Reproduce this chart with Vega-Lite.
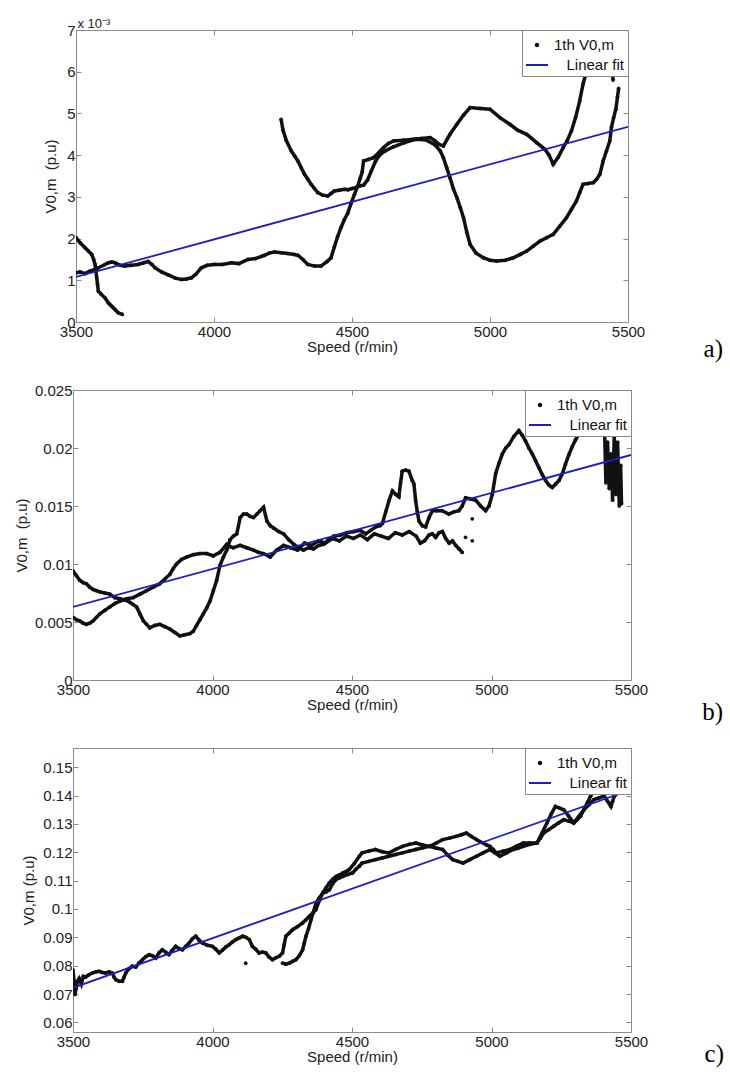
{
"$schema": "https://vega.github.io/schema/vega-lite/v6.json",
"background": "white",
"padding": {"left": 13, "top": 16, "right": 0, "bottom": 0},
"datasets": {
"a": [
{"s":3500,"v":0.00202,"g":1},{"s":3515,"v":0.0019,"g":1},{"s":3533,"v":0.00178,"g":1},{"s":3545,"v":0.0017,"g":1},{"s":3557,"v":0.00162,"g":1},{"s":3564,"v":0.0015,"g":1},{"s":3569,"v":0.00138,"g":1},{"s":3572,"v":0.00122,"g":1},{"s":3575,"v":0.00106,"g":1},{"s":3578,"v":0.0009,"g":1},{"s":3581,"v":0.00074,"g":1},{"s":3592,"v":0.00066,"g":1},{"s":3605,"v":0.00058,"g":1},{"s":3617,"v":0.00046,"g":1},{"s":3626,"v":0.0004,"g":1},{"s":3635,"v":0.00034,"g":1},{"s":3644,"v":0.00028,"g":1},{"s":3653,"v":0.00022,"g":1},{"s":3668,"v":0.00018,"g":1},
{"s":3500,"v":0.00118,"g":2},{"s":3515,"v":0.0012,"g":2},{"s":3533,"v":0.00116,"g":2},{"s":3550,"v":0.00122,"g":2},{"s":3565,"v":0.00125,"g":2},{"s":3581,"v":0.0013,"g":2},{"s":3600,"v":0.00136,"g":2},{"s":3617,"v":0.00142,"g":2},{"s":3630,"v":0.00144,"g":2},{"s":3641,"v":0.00142,"g":2},{"s":3660,"v":0.00136,"g":2},{"s":3677,"v":0.00134,"g":2},{"s":3700,"v":0.00136,"g":2},{"s":3725,"v":0.00138,"g":2},{"s":3745,"v":0.00142,"g":2},{"s":3761,"v":0.00145,"g":2},{"s":3775,"v":0.00138,"g":2},{"s":3786,"v":0.0013,"g":2},{"s":3810,"v":0.0012,"g":2},{"s":3834,"v":0.00113,"g":2},{"s":3860,"v":0.00105,"g":2},{"s":3882,"v":0.00102,"g":2},{"s":3900,"v":0.00103,"g":2},{"s":3918,"v":0.00106,"g":2},{"s":3935,"v":0.00115,"g":2},{"s":3954,"v":0.0013,"g":2},{"s":3975,"v":0.00136,"g":2},{"s":4002,"v":0.00138,"g":2},{"s":4030,"v":0.00138,"g":2},{"s":4063,"v":0.00142,"g":2},{"s":4090,"v":0.0014,"g":2},{"s":4123,"v":0.0015,"g":2},{"s":4150,"v":0.00152,"g":2},{"s":4183,"v":0.0016,"g":2},{"s":4200,"v":0.00165,"g":2},{"s":4219,"v":0.00168,"g":2},{"s":4245,"v":0.00166,"g":2},{"s":4268,"v":0.00164,"g":2},{"s":4290,"v":0.00162,"g":2},{"s":4304,"v":0.0016,"g":2},{"s":4322,"v":0.0015,"g":2},{"s":4340,"v":0.00138,"g":2},{"s":4365,"v":0.00134,"g":2},{"s":4388,"v":0.00134,"g":2},{"s":4410,"v":0.00145,"g":2},{"s":4424,"v":0.00154,"g":2},{"s":4436,"v":0.0018,"g":2},{"s":4448,"v":0.00205,"g":2},{"s":4460,"v":0.00226,"g":2},{"s":4472,"v":0.00245,"g":2},{"s":4484,"v":0.0026,"g":2},{"s":4497,"v":0.00285,"g":2},{"s":4509,"v":0.00306,"g":2},{"s":4520,"v":0.00325,"g":2},{"s":4530,"v":0.00345,"g":2},{"s":4537,"v":0.0036,"g":2},{"s":4542,"v":0.00386,"g":2},{"s":4560,"v":0.0039,"g":2},{"s":4578,"v":0.00394,"g":2},{"s":4596,"v":0.00405,"g":2},{"s":4614,"v":0.00418,"g":2},{"s":4632,"v":0.00428,"g":2},{"s":4651,"v":0.00434,"g":2},{"s":4687,"v":0.00436,"g":2},{"s":4723,"v":0.00438,"g":2},{"s":4753,"v":0.0044,"g":2},{"s":4783,"v":0.00442,"g":2},{"s":4800,"v":0.00435,"g":2},{"s":4815,"v":0.00426,"g":2},{"s":4831,"v":0.00422,"g":2},{"s":4855,"v":0.0045,"g":2},{"s":4880,"v":0.00474,"g":2},{"s":4904,"v":0.00496,"g":2},{"s":4928,"v":0.00514,"g":2},{"s":4964,"v":0.00512,"g":2},{"s":5000,"v":0.0051,"g":2},{"s":5036,"v":0.0049,"g":2},{"s":5072,"v":0.00474,"g":2},{"s":5100,"v":0.0046,"g":2},{"s":5133,"v":0.0045,"g":2},{"s":5151,"v":0.0044,"g":2},{"s":5169,"v":0.0043,"g":2},{"s":5199,"v":0.00414,"g":2},{"s":5214,"v":0.004,"g":2},{"s":5229,"v":0.00378,"g":2},{"s":5247,"v":0.00395,"g":2},{"s":5265,"v":0.00418,"g":2},{"s":5280,"v":0.00435,"g":2},{"s":5295,"v":0.00458,"g":2},{"s":5310,"v":0.0049,"g":2},{"s":5325,"v":0.0053,"g":2},{"s":5337,"v":0.0057,"g":2},{"s":5350,"v":0.00602,"g":2},{"s":5365,"v":0.0063,"g":2},{"s":5390,"v":0.0065,"g":2},{"s":5420,"v":0.0065,"g":2},{"s":5440,"v":0.0062,"g":2},{"s":5446,"v":0.0058,"g":2},
{"s":4243,"v":0.00486,"g":3},{"s":4250,"v":0.0046,"g":3},{"s":4262,"v":0.00435,"g":3},{"s":4280,"v":0.0041,"g":3},{"s":4292,"v":0.00398,"g":3},{"s":4304,"v":0.00386,"g":3},{"s":4316,"v":0.0037,"g":3},{"s":4328,"v":0.00354,"g":3},{"s":4340,"v":0.00342,"g":3},{"s":4352,"v":0.0033,"g":3},{"s":4364,"v":0.0032,"g":3},{"s":4376,"v":0.0031,"g":3},{"s":4394,"v":0.00304,"g":3},{"s":4412,"v":0.00302,"g":3},{"s":4424,"v":0.00308,"g":3},{"s":4436,"v":0.00314,"g":3},{"s":4454,"v":0.00316,"g":3},{"s":4472,"v":0.00318,"g":3},{"s":4486,"v":0.00317,"g":3},{"s":4500,"v":0.0032,"g":3},{"s":4514,"v":0.00322,"g":3},{"s":4527,"v":0.00326,"g":3},{"s":4542,"v":0.00328,"g":3},{"s":4556,"v":0.0034,"g":3},{"s":4570,"v":0.00362,"g":3},{"s":4585,"v":0.00385,"g":3},{"s":4600,"v":0.004,"g":3},{"s":4620,"v":0.0041,"g":3},{"s":4650,"v":0.0042,"g":3},{"s":4690,"v":0.0043,"g":3},{"s":4730,"v":0.00438,"g":3},{"s":4770,"v":0.00436,"g":3},{"s":4800,"v":0.00425,"g":3},{"s":4820,"v":0.0041,"g":3},{"s":4831,"v":0.00394,"g":3},{"s":4843,"v":0.0037,"g":3},{"s":4855,"v":0.00346,"g":3},{"s":4867,"v":0.0032,"g":3},{"s":4880,"v":0.00298,"g":3},{"s":4892,"v":0.00275,"g":3},{"s":4904,"v":0.0025,"g":3},{"s":4916,"v":0.00215,"g":3},{"s":4928,"v":0.00186,"g":3},{"s":4950,"v":0.00165,"g":3},{"s":4976,"v":0.00154,"g":3},{"s":5000,"v":0.00148,"g":3},{"s":5024,"v":0.00146,"g":3},{"s":5055,"v":0.00148,"g":3},{"s":5084,"v":0.00154,"g":3},{"s":5110,"v":0.00162,"g":3},{"s":5133,"v":0.0017,"g":3},{"s":5157,"v":0.00182,"g":3},{"s":5181,"v":0.00194,"g":3},{"s":5205,"v":0.00202,"g":3},{"s":5229,"v":0.0021,"g":3},{"s":5253,"v":0.0023,"g":3},{"s":5277,"v":0.0025,"g":3},{"s":5295,"v":0.0027,"g":3},{"s":5313,"v":0.0029,"g":3},{"s":5325,"v":0.0031,"g":3},{"s":5337,"v":0.0033,"g":3},{"s":5355,"v":0.00332,"g":3},{"s":5374,"v":0.00334,"g":3},{"s":5386,"v":0.00342,"g":3},{"s":5398,"v":0.00354,"g":3},{"s":5410,"v":0.00386,"g":3},{"s":5422,"v":0.0041,"g":3},{"s":5434,"v":0.00434,"g":3},{"s":5440,"v":0.00466,"g":3},{"s":5448,"v":0.0049,"g":3},{"s":5456,"v":0.0051,"g":3},{"s":5462,"v":0.0054,"g":3},{"s":5466,"v":0.0056,"g":3}
],
"b": [
{"s":3500,"v":0.0094,"g":1},{"s":3512,"v":0.009,"g":1},{"s":3524,"v":0.0086,"g":1},{"s":3536,"v":0.0084,"g":1},{"s":3548,"v":0.0083,"g":1},{"s":3560,"v":0.008,"g":1},{"s":3572,"v":0.0078,"g":1},{"s":3584,"v":0.0077,"g":1},{"s":3596,"v":0.0076,"g":1},{"s":3614,"v":0.0075,"g":1},{"s":3632,"v":0.0074,"g":1},{"s":3650,"v":0.0071,"g":1},{"s":3668,"v":0.007,"g":1},{"s":3686,"v":0.0069,"g":1},{"s":3704,"v":0.0067,"g":1},{"s":3716,"v":0.0065,"g":1},{"s":3728,"v":0.0063,"g":1},{"s":3740,"v":0.0057,"g":1},{"s":3752,"v":0.0051,"g":1},{"s":3764,"v":0.0048,"g":1},{"s":3775,"v":0.0045,"g":1},{"s":3793,"v":0.0047,"g":1},{"s":3811,"v":0.0048,"g":1},{"s":3829,"v":0.0046,"g":1},{"s":3847,"v":0.0044,"g":1},{"s":3865,"v":0.0041,"g":1},{"s":3883,"v":0.0038,"g":1},{"s":3901,"v":0.0039,"g":1},{"s":3919,"v":0.004,"g":1},{"s":3931,"v":0.0042,"g":1},{"s":3943,"v":0.0047,"g":1},{"s":3955,"v":0.0052,"g":1},{"s":3967,"v":0.0057,"g":1},{"s":3979,"v":0.0062,"g":1},{"s":3991,"v":0.0068,"g":1},{"s":4003,"v":0.0077,"g":1},{"s":4015,"v":0.0086,"g":1},{"s":4027,"v":0.0099,"g":1},{"s":4039,"v":0.0106,"g":1},{"s":4051,"v":0.0112,"g":1},{"s":4063,"v":0.0121,"g":1},{"s":4075,"v":0.0124,"g":1},{"s":4087,"v":0.0126,"g":1},{"s":4099,"v":0.014,"g":1},{"s":4111,"v":0.0143,"g":1},{"s":4123,"v":0.0143,"g":1},{"s":4135,"v":0.0141,"g":1},{"s":4147,"v":0.014,"g":1},{"s":4159,"v":0.0143,"g":1},{"s":4171,"v":0.0146,"g":1},{"s":4183,"v":0.0149,"g":1},{"s":4195,"v":0.0137,"g":1},{"s":4207,"v":0.0133,"g":1},{"s":4219,"v":0.0131,"g":1},{"s":4237,"v":0.0128,"g":1},{"s":4255,"v":0.0126,"g":1},{"s":4273,"v":0.0121,"g":1},{"s":4291,"v":0.0117,"g":1},{"s":4308,"v":0.0114,"g":1},{"s":4326,"v":0.0112,"g":1},{"s":4344,"v":0.0114,"g":1},{"s":4362,"v":0.0113,"g":1},{"s":4380,"v":0.0116,"g":1},{"s":4398,"v":0.0117,"g":1},{"s":4416,"v":0.0121,"g":1},{"s":4434,"v":0.0124,"g":1},{"s":4458,"v":0.0125,"g":1},{"s":4482,"v":0.0127,"g":1},{"s":4506,"v":0.0128,"g":1},{"s":4530,"v":0.0129,"g":1},{"s":4549,"v":0.0126,"g":1},{"s":4567,"v":0.0129,"g":1},{"s":4585,"v":0.0132,"g":1},{"s":4600,"v":0.0133,"g":1},{"s":4609,"v":0.0135,"g":1},{"s":4621,"v":0.0145,"g":1},{"s":4633,"v":0.0155,"g":1},{"s":4645,"v":0.0163,"g":1},{"s":4657,"v":0.016,"g":1},{"s":4668,"v":0.0158,"g":1},{"s":4674,"v":0.017,"g":1},{"s":4680,"v":0.018,"g":1},{"s":4692,"v":0.0181,"g":1},{"s":4704,"v":0.018,"g":1},{"s":4716,"v":0.0172,"g":1},{"s":4722,"v":0.0169,"g":1},{"s":4728,"v":0.0155,"g":1},{"s":4734,"v":0.0145,"g":1},{"s":4740,"v":0.0137,"g":1},{"s":4752,"v":0.0133,"g":1},{"s":4764,"v":0.0132,"g":1},{"s":4776,"v":0.014,"g":1},{"s":4788,"v":0.0146,"g":1},{"s":4805,"v":0.0146,"g":1},{"s":4823,"v":0.0146,"g":1},{"s":4847,"v":0.0143,"g":1},{"s":4865,"v":0.0145,"g":1},{"s":4883,"v":0.0146,"g":1},{"s":4895,"v":0.015,"g":1},{"s":4907,"v":0.0157,"g":1},{"s":4925,"v":0.0156,"g":1},{"s":4943,"v":0.0155,"g":1},{"s":4961,"v":0.015,"g":1},{"s":4979,"v":0.0146,"g":1},{"s":4991,"v":0.015,"g":1},{"s":5003,"v":0.016,"g":1},{"s":5015,"v":0.0178,"g":1},{"s":5027,"v":0.0187,"g":1},{"s":5039,"v":0.0195,"g":1},{"s":5051,"v":0.02,"g":1},{"s":5063,"v":0.0203,"g":1},{"s":5080,"v":0.021,"g":1},{"s":5098,"v":0.0215,"g":1},{"s":5110,"v":0.0211,"g":1},{"s":5122,"v":0.0206,"g":1},{"s":5134,"v":0.02,"g":1},{"s":5146,"v":0.0195,"g":1},{"s":5158,"v":0.0189,"g":1},{"s":5170,"v":0.0183,"g":1},{"s":5182,"v":0.0177,"g":1},{"s":5194,"v":0.0172,"g":1},{"s":5206,"v":0.0168,"g":1},{"s":5218,"v":0.0166,"g":1},{"s":5230,"v":0.0169,"g":1},{"s":5242,"v":0.0172,"g":1},{"s":5254,"v":0.0178,"g":1},{"s":5265,"v":0.0186,"g":1},{"s":5277,"v":0.0194,"g":1},{"s":5289,"v":0.0201,"g":1},{"s":5301,"v":0.0207,"g":1},{"s":5313,"v":0.0212,"g":1},{"s":5331,"v":0.0215,"g":1},{"s":5349,"v":0.0215,"g":1},{"s":5367,"v":0.0216,"g":1},{"s":5385,"v":0.0215,"g":1},{"s":5396,"v":0.0249,"g":1},
{"s":3500,"v":0.0054,"g":2},{"s":3512,"v":0.0052,"g":2},{"s":3524,"v":0.0051,"g":2},{"s":3536,"v":0.0049,"g":2},{"s":3548,"v":0.0048,"g":2},{"s":3560,"v":0.0049,"g":2},{"s":3572,"v":0.0051,"g":2},{"s":3584,"v":0.0054,"g":2},{"s":3596,"v":0.0057,"g":2},{"s":3614,"v":0.006,"g":2},{"s":3632,"v":0.0063,"g":2},{"s":3650,"v":0.0066,"g":2},{"s":3668,"v":0.0068,"g":2},{"s":3692,"v":0.007,"g":2},{"s":3716,"v":0.0071,"g":2},{"s":3740,"v":0.0074,"g":2},{"s":3763,"v":0.0077,"g":2},{"s":3787,"v":0.008,"g":2},{"s":3811,"v":0.0083,"g":2},{"s":3829,"v":0.0087,"g":2},{"s":3847,"v":0.0091,"g":2},{"s":3859,"v":0.0096,"g":2},{"s":3871,"v":0.01,"g":2},{"s":3889,"v":0.0104,"g":2},{"s":3907,"v":0.0106,"g":2},{"s":3931,"v":0.0108,"g":2},{"s":3955,"v":0.0109,"g":2},{"s":3979,"v":0.0109,"g":2},{"s":4003,"v":0.0107,"g":2},{"s":4027,"v":0.011,"g":2},{"s":4051,"v":0.0117,"g":2},{"s":4063,"v":0.0115,"g":2},{"s":4075,"v":0.0114,"g":2},{"s":4099,"v":0.0116,"g":2},{"s":4123,"v":0.0114,"g":2},{"s":4147,"v":0.0112,"g":2},{"s":4165,"v":0.011,"g":2},{"s":4183,"v":0.0109,"g":2},{"s":4207,"v":0.0106,"g":2},{"s":4230,"v":0.0112,"g":2},{"s":4255,"v":0.0116,"g":2},{"s":4280,"v":0.0114,"g":2},{"s":4305,"v":0.0112,"g":2},{"s":4330,"v":0.0118,"g":2},{"s":4355,"v":0.0116,"g":2},{"s":4380,"v":0.012,"g":2},{"s":4405,"v":0.0118,"g":2},{"s":4430,"v":0.0122,"g":2},{"s":4455,"v":0.012,"g":2},{"s":4480,"v":0.0124,"g":2},{"s":4505,"v":0.0122,"g":2},{"s":4530,"v":0.0125,"g":2},{"s":4555,"v":0.0121,"g":2},{"s":4580,"v":0.0126,"g":2},{"s":4605,"v":0.0124,"g":2},{"s":4630,"v":0.0122,"g":2},{"s":4655,"v":0.0127,"g":2},{"s":4680,"v":0.0125,"g":2},{"s":4705,"v":0.0128,"g":2},{"s":4730,"v":0.0124,"g":2},{"s":4745,"v":0.0118,"g":2},{"s":4760,"v":0.012,"g":2},{"s":4776,"v":0.0125,"g":2},{"s":4788,"v":0.0126,"g":2},{"s":4800,"v":0.0123,"g":2},{"s":4812,"v":0.0127,"g":2},{"s":4824,"v":0.0128,"g":2},{"s":4836,"v":0.0122,"g":2},{"s":4848,"v":0.0118,"g":2},{"s":4860,"v":0.012,"g":2},{"s":4872,"v":0.0116,"g":2},{"s":4884,"v":0.0113,"g":2},{"s":4895,"v":0.011,"g":2},
{"s":5405,"v":0.0218,"g":3},{"s":5410,"v":0.017,"g":3},{"s":5416,"v":0.0205,"g":3},{"s":5422,"v":0.0165,"g":3},{"s":5428,"v":0.0195,"g":3},{"s":5434,"v":0.0155,"g":3},{"s":5440,"v":0.021,"g":3},{"s":5446,"v":0.016,"g":3},{"s":5452,"v":0.0205,"g":3},{"s":5458,"v":0.015,"g":3},{"s":5463,"v":0.0185,"g":3},{"s":5466,"v":0.0152,"g":3},
{"s":4907,"v":0.0123,"g":4},{"s":4931,"v":0.012,"g":5},{"s":4931,"v":0.0139,"g":6}
],
"c": [
{"s":3500,"v":0.0785,"g":1},{"s":3504,"v":0.0745,"g":1},{"s":3507,"v":0.0698,"g":1},{"s":3511,"v":0.072,"g":1},{"s":3516,"v":0.0745,"g":1},{"s":3522,"v":0.0755,"g":1},{"s":3530,"v":0.0735,"g":1},{"s":3537,"v":0.0762,"g":1},{"s":3545,"v":0.076,"g":1},{"s":3557,"v":0.0768,"g":1},{"s":3569,"v":0.0774,"g":1},{"s":3581,"v":0.0778,"g":1},{"s":3593,"v":0.078,"g":1},{"s":3605,"v":0.0776,"g":1},{"s":3617,"v":0.0774,"g":1},{"s":3629,"v":0.0778,"g":1},{"s":3641,"v":0.0774,"g":1},{"s":3647,"v":0.076,"g":1},{"s":3653,"v":0.0751,"g":1},{"s":3665,"v":0.0745,"g":1},{"s":3677,"v":0.0745,"g":1},{"s":3683,"v":0.076,"g":1},{"s":3689,"v":0.0774,"g":1},{"s":3701,"v":0.079,"g":1},{"s":3713,"v":0.0798,"g":1},{"s":3725,"v":0.0795,"g":1},{"s":3737,"v":0.081,"g":1},{"s":3749,"v":0.0821,"g":1},{"s":3761,"v":0.0832,"g":1},{"s":3773,"v":0.0839,"g":1},{"s":3785,"v":0.0835,"g":1},{"s":3797,"v":0.0827,"g":1},{"s":3808,"v":0.0845,"g":1},{"s":3820,"v":0.0856,"g":1},{"s":3832,"v":0.0848,"g":1},{"s":3844,"v":0.0839,"g":1},{"s":3856,"v":0.0855,"g":1},{"s":3868,"v":0.0868,"g":1},{"s":3880,"v":0.086,"g":1},{"s":3892,"v":0.0856,"g":1},{"s":3904,"v":0.0868,"g":1},{"s":3916,"v":0.088,"g":1},{"s":3928,"v":0.0895,"g":1},{"s":3940,"v":0.0904,"g":1},{"s":3952,"v":0.089,"g":1},{"s":3964,"v":0.088,"g":1},{"s":3982,"v":0.0872,"g":1},{"s":4000,"v":0.0868,"g":1},{"s":4012,"v":0.0858,"g":1},{"s":4024,"v":0.0845,"g":1},{"s":4036,"v":0.0855,"g":1},{"s":4048,"v":0.0866,"g":1},{"s":4060,"v":0.0874,"g":1},{"s":4072,"v":0.0884,"g":1},{"s":4084,"v":0.0892,"g":1},{"s":4096,"v":0.0898,"g":1},{"s":4108,"v":0.0904,"g":1},{"s":4120,"v":0.09,"g":1},{"s":4132,"v":0.0892,"g":1},{"s":4143,"v":0.0868,"g":1},{"s":4155,"v":0.0858,"g":1},{"s":4167,"v":0.0845,"g":1},{"s":4179,"v":0.0848,"g":1},{"s":4191,"v":0.0845,"g":1},{"s":4203,"v":0.083,"g":1},{"s":4215,"v":0.0821,"g":1},{"s":4227,"v":0.0828,"g":1},{"s":4239,"v":0.0833,"g":1},{"s":4251,"v":0.0845,"g":1},{"s":4257,"v":0.0875,"g":1},{"s":4263,"v":0.0904,"g":1},{"s":4275,"v":0.0915,"g":1},{"s":4287,"v":0.0927,"g":1},{"s":4305,"v":0.0938,"g":1},{"s":4323,"v":0.0951,"g":1},{"s":4335,"v":0.0962,"g":1},{"s":4347,"v":0.0974,"g":1},{"s":4359,"v":0.0985,"g":1},{"s":4371,"v":0.0998,"g":1},{"s":4383,"v":0.103,"g":1},{"s":4395,"v":0.1056,"g":1},{"s":4407,"v":0.1075,"g":1},{"s":4419,"v":0.1092,"g":1},{"s":4431,"v":0.1105,"g":1},{"s":4443,"v":0.1115,"g":1},{"s":4455,"v":0.112,"g":1},{"s":4467,"v":0.1127,"g":1},{"s":4478,"v":0.1132,"g":1},{"s":4490,"v":0.1139,"g":1},{"s":4508,"v":0.116,"g":1},{"s":4526,"v":0.1186,"g":1},{"s":4536,"v":0.1198,"g":1},{"s":4560,"v":0.1204,"g":1},{"s":4584,"v":0.121,"g":1},{"s":4608,"v":0.1202,"g":1},{"s":4632,"v":0.1198,"g":1},{"s":4656,"v":0.121,"g":1},{"s":4681,"v":0.1221,"g":1},{"s":4705,"v":0.1228,"g":1},{"s":4729,"v":0.1233,"g":1},{"s":4753,"v":0.1226,"g":1},{"s":4777,"v":0.1221,"g":1},{"s":4801,"v":0.1232,"g":1},{"s":4825,"v":0.1245,"g":1},{"s":4849,"v":0.125,"g":1},{"s":4873,"v":0.1256,"g":1},{"s":4892,"v":0.1262,"g":1},{"s":4910,"v":0.1268,"g":1},{"s":4928,"v":0.1256,"g":1},{"s":4946,"v":0.1245,"g":1},{"s":4958,"v":0.1238,"g":1},{"s":4970,"v":0.1233,"g":1},{"s":4982,"v":0.1226,"g":1},{"s":4994,"v":0.1221,"g":1},{"s":5006,"v":0.121,"g":1},{"s":5018,"v":0.1198,"g":1},{"s":5042,"v":0.1204,"g":1},{"s":5066,"v":0.121,"g":1},{"s":5090,"v":0.1222,"g":1},{"s":5114,"v":0.1233,"g":1},{"s":5138,"v":0.1233,"g":1},{"s":5163,"v":0.1233,"g":1},{"s":5181,"v":0.1268,"g":1},{"s":5199,"v":0.1304,"g":1},{"s":5214,"v":0.1335,"g":1},{"s":5229,"v":0.1362,"g":1},{"s":5244,"v":0.1356,"g":1},{"s":5259,"v":0.135,"g":1},{"s":5277,"v":0.1327,"g":1},{"s":5295,"v":0.1304,"g":1},{"s":5307,"v":0.1315,"g":1},{"s":5319,"v":0.1327,"g":1},{"s":5331,"v":0.135,"g":1},{"s":5343,"v":0.1374,"g":1},{"s":5355,"v":0.1398,"g":1},{"s":5367,"v":0.1421,"g":1},{"s":5380,"v":0.1428,"g":1},{"s":5392,"v":0.1433,"g":1},{"s":5404,"v":0.1427,"g":1},{"s":5416,"v":0.1421,"g":1},{"s":5428,"v":0.1415,"g":1},{"s":5440,"v":0.1409,"g":1},{"s":5452,"v":0.1421,"g":1},
{"s":4251,"v":0.0809,"g":2},{"s":4263,"v":0.0805,"g":2},{"s":4275,"v":0.0809,"g":2},{"s":4287,"v":0.0815,"g":2},{"s":4299,"v":0.0821,"g":2},{"s":4311,"v":0.0835,"g":2},{"s":4323,"v":0.0856,"g":2},{"s":4329,"v":0.088,"g":2},{"s":4335,"v":0.0904,"g":2},{"s":4344,"v":0.093,"g":2},{"s":4353,"v":0.0962,"g":2},{"s":4362,"v":0.099,"g":2},{"s":4371,"v":0.1021,"g":2},{"s":4383,"v":0.104,"g":2},{"s":4395,"v":0.1056,"g":2},{"s":4407,"v":0.106,"g":2},{"s":4419,"v":0.1068,"g":2},{"s":4431,"v":0.109,"g":2},{"s":4443,"v":0.1104,"g":2},{"s":4455,"v":0.111,"g":2},{"s":4467,"v":0.1115,"g":2},{"s":4485,"v":0.1122,"g":2},{"s":4502,"v":0.1127,"g":2},{"s":4514,"v":0.114,"g":2},{"s":4526,"v":0.1151,"g":2},{"s":4536,"v":0.1162,"g":2},{"s":4560,"v":0.1168,"g":2},{"s":4584,"v":0.1174,"g":2},{"s":4608,"v":0.118,"g":2},{"s":4632,"v":0.1186,"g":2},{"s":4656,"v":0.1192,"g":2},{"s":4681,"v":0.1198,"g":2},{"s":4705,"v":0.1204,"g":2},{"s":4729,"v":0.121,"g":2},{"s":4753,"v":0.1216,"g":2},{"s":4777,"v":0.1221,"g":2},{"s":4801,"v":0.1215,"g":2},{"s":4825,"v":0.121,"g":2},{"s":4843,"v":0.119,"g":2},{"s":4861,"v":0.1174,"g":2},{"s":4880,"v":0.1168,"g":2},{"s":4898,"v":0.1162,"g":2},{"s":4922,"v":0.1174,"g":2},{"s":4946,"v":0.1186,"g":2},{"s":4970,"v":0.1198,"g":2},{"s":4994,"v":0.121,"g":2},{"s":5012,"v":0.1198,"g":2},{"s":5030,"v":0.1186,"g":2},{"s":5054,"v":0.1198,"g":2},{"s":5078,"v":0.121,"g":2},{"s":5096,"v":0.1215,"g":2},{"s":5114,"v":0.1221,"g":2},{"s":5138,"v":0.1228,"g":2},{"s":5163,"v":0.1233,"g":2},{"s":5175,"v":0.125,"g":2},{"s":5187,"v":0.1268,"g":2},{"s":5205,"v":0.128,"g":2},{"s":5223,"v":0.1292,"g":2},{"s":5241,"v":0.1304,"g":2},{"s":5259,"v":0.1315,"g":2},{"s":5277,"v":0.131,"g":2},{"s":5295,"v":0.1304,"g":2},{"s":5313,"v":0.1327,"g":2},{"s":5331,"v":0.135,"g":2},{"s":5349,"v":0.1368,"g":2},{"s":5367,"v":0.1386,"g":2},{"s":5385,"v":0.1392,"g":2},{"s":5404,"v":0.1398,"g":2},{"s":5416,"v":0.138,"g":2},{"s":5428,"v":0.1362,"g":2},{"s":5434,"v":0.138,"g":2},{"s":5440,"v":0.1398,"g":2},{"s":5452,"v":0.1409,"g":2},
{"s":4119,"v":0.0809,"g":3}
],
"fa": [{"s":3500,"v":0.00108},{"s":5500,"v":0.00468}],
"fb": [{"s":3500,"v":0.0063},{"s":5500,"v":0.0194}],
"fc": [{"s":3500,"v":0.0722},{"s":5500,"v":0.1421}]
},
"vconcat": [
{
"width": 552, "height": 292,
"title": {"text": "a)", "orient": "bottom", "anchor": "end", "frame": "group", "dx": 95, "dy": -17, "offset": 0, "font": "Liberation Serif", "fontSize": 25, "fontWeight": "normal", "color": "#000"},
"layer": [
{"data": {"name": "a"}, "mark": {"type": "line", "strokeWidth": 3.5, "clip": true},
 "encoding": {
  "x": {"field": "s", "type": "quantitative", "scale": {"domain": [3500, 5500], "nice": false, "zero": false}, "axis": null},
  "y": {"field": "v", "type": "quantitative", "scale": {"domain": [0, 0.007], "nice": false, "zero": false}, "axis": null},
  "detail": {"field": "g"},
  "color": {"datum": "1th V0,m", "scale": {"domain": ["1th V0,m", "\u200b\u00a0\u00a0\u00a0Linear fit"], "range": ["#111111", "#1c1cc8"]},
   "legend": {"orient": "top-right", "offset": 0, "title": null, "strokeColor": "#888888", "fillColor": "white", "padding": 3, "labelFont": "Liberation Sans", "labelFontSize": 15, "labelColor": "#111111", "symbolSize": 225, "rowPadding": 0, "labelOffset": 5,
    "encode": {"symbols": {"update": {"shape": {"signal": "datum.value === '1th V0,m' ? 'circle' : 'stroke'"}, "size": {"signal": "datum.value === '1th V0,m' ? 6 : 484"}, "fill": {"signal": "datum.value === '1th V0,m' ? '#111111' : 'transparent'"}, "stroke": {"signal": "datum.value === '1th V0,m' ? 'transparent' : '#1c1cc8'"}, "strokeWidth": {"value": 2}, "opacity": {"value": 1}}}}}}
 }},
{"data": {"name": "a"}, "mark": {"type": "point", "filled": true, "size": 14, "color": "#111111", "opacity": 1, "clip": true},
 "encoding": {
  "x": {"field": "s", "type": "quantitative", "axis": {"orient": "bottom", "values": [3500, 4000, 4500, 5000, 5500], "format": "d", "title": "Speed (r/min)", "labelFlush": false, "labelPadding": 7, "tickSize": -5, "titlePadding": 0}},
  "y": {"field": "v", "type": "quantitative", "axis": {"orient": "left", "values": [0, 0.001, 0.002, 0.003, 0.004, 0.005, 0.006, 0.007], "labelExpr": "format(datum.value * 1000, 'd')", "title": "V0,m\u00a0 (p.u)", "labelPadding": 6, "tickSize": -5, "titlePadding": 8}}
 }},
{"data": {"name": "fa"}, "mark": {"type": "line", "strokeWidth": 1.8, "clip": true},
 "encoding": {
  "x": {"field": "s", "type": "quantitative", "axis": {"orient": "top", "values": [3500, 4000, 4500, 5000, 5500], "labels": false, "tickSize": -5, "title": "x 10\u207b\u00b3", "titleX": 1, "titleY": -3, "titleAlign": "left", "titleAngle": 0, "titleBaseline": "alphabetic", "titleFontSize": 13}},
  "y": {"field": "v", "type": "quantitative", "axis": {"orient": "right", "values": [0, 0.001, 0.002, 0.003, 0.004, 0.005, 0.006, 0.007], "labels": false, "tickSize": -5, "title": null}},
  "color": {"datum": "\u200b\u00a0\u00a0\u00a0Linear fit"}
 }}
],
"resolve": {"axis": {"x": "independent", "y": "independent"}}
},
{
"width": 558, "height": 290,
"title": {"text": "b)", "orient": "bottom", "anchor": "end", "frame": "group", "dx": 92, "dy": -12, "offset": 0, "font": "Liberation Serif", "fontSize": 25, "fontWeight": "normal", "color": "#000"},
"layer": [
{"data": {"name": "b"}, "mark": {"type": "line", "strokeWidth": 3.5, "clip": true},
 "encoding": {
  "x": {"field": "s", "type": "quantitative", "scale": {"domain": [3500, 5500], "nice": false, "zero": false}, "axis": null},
  "y": {"field": "v", "type": "quantitative", "scale": {"domain": [0, 0.025], "nice": false, "zero": false}, "axis": null},
  "detail": {"field": "g"},
  "color": {"datum": "1th V0,m", "scale": {"domain": ["1th V0,m", "\u200b\u00a0\u00a0\u00a0Linear fit"], "range": ["#111111", "#1c1cc8"]},
   "legend": {"orient": "top-right", "offset": 0, "title": null, "strokeColor": "#888888", "fillColor": "white", "padding": 3, "labelFont": "Liberation Sans", "labelFontSize": 15, "labelColor": "#111111", "symbolSize": 225, "rowPadding": 0, "labelOffset": 5,
    "encode": {"symbols": {"update": {"shape": {"signal": "datum.value === '1th V0,m' ? 'circle' : 'stroke'"}, "size": {"signal": "datum.value === '1th V0,m' ? 6 : 484"}, "fill": {"signal": "datum.value === '1th V0,m' ? '#111111' : 'transparent'"}, "stroke": {"signal": "datum.value === '1th V0,m' ? 'transparent' : '#1c1cc8'"}, "strokeWidth": {"value": 2}, "opacity": {"value": 1}}}}}}
 }},
{"data": {"name": "b"}, "mark": {"type": "point", "filled": true, "size": 14, "color": "#111111", "opacity": 1, "clip": true},
 "encoding": {
  "x": {"field": "s", "type": "quantitative", "axis": {"orient": "bottom", "values": [3500, 4000, 4500, 5000, 5500], "format": "d", "title": "Speed (r/min)", "labelFlush": false, "labelPadding": 7, "tickSize": -5, "titlePadding": 0}},
  "y": {"field": "v", "type": "quantitative", "axis": {"orient": "left", "values": [0, 0.005, 0.01, 0.015, 0.02, 0.025], "format": "~g", "title": "V0,m\u00a0 (p.u)", "labelPadding": 6, "tickSize": -5, "titlePadding": 5}}
 }},
{"data": {"name": "fb"}, "mark": {"type": "line", "strokeWidth": 1.8, "clip": true},
 "encoding": {
  "x": {"field": "s", "type": "quantitative", "axis": {"orient": "top", "values": [3500, 4000, 4500, 5000, 5500], "labels": false, "tickSize": -5, "title": null}},
  "y": {"field": "v", "type": "quantitative", "axis": {"orient": "right", "values": [0, 0.005, 0.01, 0.015, 0.02, 0.025], "labels": false, "tickSize": -5, "title": null}},
  "color": {"datum": "\u200b\u00a0\u00a0\u00a0Linear fit"}
 }}
],
"resolve": {"axis": {"x": "independent", "y": "independent"}}
},
{
"width": 558, "height": 284,
"title": {"text": "c)", "orient": "bottom", "anchor": "end", "frame": "group", "dx": 93, "dy": -22, "offset": 0, "font": "Liberation Serif", "fontSize": 25, "fontWeight": "normal", "color": "#000"},
"layer": [
{"data": {"name": "c"}, "mark": {"type": "line", "strokeWidth": 3.5, "clip": true},
 "encoding": {
  "x": {"field": "s", "type": "quantitative", "scale": {"domain": [3500, 5500], "nice": false, "zero": false}, "axis": null},
  "y": {"field": "v", "type": "quantitative", "scale": {"domain": [0.0566, 0.1568], "nice": false, "zero": false}, "axis": null},
  "detail": {"field": "g"},
  "color": {"datum": "1th V0,m", "scale": {"domain": ["1th V0,m", "\u200b\u00a0\u00a0\u00a0Linear fit"], "range": ["#111111", "#1c1cc8"]},
   "legend": {"orient": "top-right", "offset": 0, "title": null, "strokeColor": "#888888", "fillColor": "white", "padding": 3, "labelFont": "Liberation Sans", "labelFontSize": 15, "labelColor": "#111111", "symbolSize": 225, "rowPadding": 0, "labelOffset": 5,
    "encode": {"symbols": {"update": {"shape": {"signal": "datum.value === '1th V0,m' ? 'circle' : 'stroke'"}, "size": {"signal": "datum.value === '1th V0,m' ? 6 : 484"}, "fill": {"signal": "datum.value === '1th V0,m' ? '#111111' : 'transparent'"}, "stroke": {"signal": "datum.value === '1th V0,m' ? 'transparent' : '#1c1cc8'"}, "strokeWidth": {"value": 2}, "opacity": {"value": 1}}}}}}
 }},
{"data": {"name": "c"}, "mark": {"type": "point", "filled": true, "size": 14, "color": "#111111", "opacity": 1, "clip": true},
 "encoding": {
  "x": {"field": "s", "type": "quantitative", "axis": {"orient": "bottom", "values": [3500, 4000, 4500, 5000, 5500], "format": "d", "title": "Speed (r/min)", "labelFlush": false, "labelPadding": 7, "tickSize": -5, "titlePadding": 0}},
  "y": {"field": "v", "type": "quantitative", "axis": {"orient": "left", "values": [0.06, 0.07, 0.08, 0.09, 0.1, 0.11, 0.12, 0.13, 0.14, 0.15], "format": "~g", "title": "V0,m (p.u)", "labelPadding": 6, "tickSize": -5, "titlePadding": 6}}
 }},
{"data": {"name": "fc"}, "mark": {"type": "line", "strokeWidth": 1.8, "clip": true},
 "encoding": {
  "x": {"field": "s", "type": "quantitative", "axis": {"orient": "top", "values": [3500, 4000, 4500, 5000, 5500], "labels": false, "tickSize": -5, "title": null}},
  "y": {"field": "v", "type": "quantitative", "axis": {"orient": "right", "values": [0.06, 0.07, 0.08, 0.09, 0.1, 0.11, 0.12, 0.13, 0.14, 0.15], "labels": false, "tickSize": -5, "title": null}},
  "color": {"datum": "\u200b\u00a0\u00a0\u00a0Linear fit"}
 }}
],
"resolve": {"axis": {"x": "independent", "y": "independent"}}
}
],
"spacing": 68,
"center": true,
"bounds": "flush",
"resolve": {"scale": {"color": "independent"}, "legend": {"color": "independent"}},
"config": {
 "view": {"stroke": "#8c8c8c", "strokeWidth": 1},
 "font": "Liberation Sans",
 "axis": {"labelFont": "Liberation Sans", "labelFontSize": 15, "labelColor": "#222222", "titleFont": "Liberation Sans", "titleFontSize": 15, "titleFontWeight": "normal", "titleColor": "#222222", "domain": false, "grid": false, "tickColor": "#8c8c8c"}
}
}
